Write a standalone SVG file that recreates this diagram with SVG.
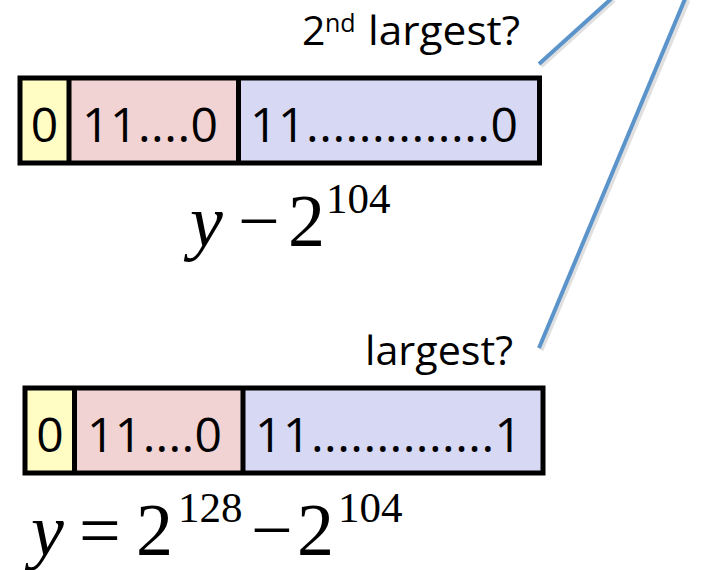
<svg xmlns="http://www.w3.org/2000/svg" width="725" height="570" viewBox="0 0 725 570">
<style>
.bx{stroke:#000;stroke-width:5}
.y{fill:#FFFCC4}.p{fill:#F2D3D3}.b{fill:#D6D8F4}
.t{font-family:"Open Sans","Liberation Sans",sans-serif;fill:#000}
.d{font-size:48px}
.l{font-size:41px}
.m{font-family:"Liberation Serif","Times New Roman",serif;fill:#000}
.big{font-size:74px}
.sup{font-size:43px}
.it{font-style:italic}
.c{stroke:#5B93CB;stroke-width:4;fill:none}
.s{stroke:#000;stroke-opacity:0.12;stroke-width:5;fill:none}
</style>
<g id="connectors">
<line class="s" x1="541" y1="66" x2="614" y2="0"/>
<line class="s" x1="541" y1="350" x2="688" y2="0"/>
<line class="c" x1="539" y1="64" x2="611" y2="-1"/>
<line class="c" x1="539" y1="348" x2="685" y2="-1"/>
</g>
<g id="label-2nd">
<text class="t l" x="302" y="45">2</text>
<text class="t" style="font-size:25px" x="325" y="32">nd</text>
<text class="t l" x="368" y="45" textLength="152" lengthAdjust="spacingAndGlyphs">largest?</text>
</g>
<g id="box-top">
<rect class="y" x="20" y="78" width="49" height="85"/>
<rect class="p" x="69" y="78" width="169.5" height="85"/>
<rect class="b" x="238.5" y="78" width="301" height="85"/>
<rect class="bx" x="20" y="78" width="519.5" height="85" fill="none"/>
<line class="bx" x1="69" y1="78" x2="69" y2="163"/>
<line class="bx" x1="238.5" y1="78" x2="238.5" y2="163"/>
<text class="t d" x="44.5" y="142" text-anchor="middle">0</text>
<text class="t d" x="82" y="142" textLength="136" lengthAdjust="spacing">11....0</text>
<text class="t d" x="250" y="142" textLength="268" lengthAdjust="spacing">11..............0</text>
</g>
<g id="formula-top">
<text class="m big it" x="190" y="246">y</text>
<text class="m big" x="238" y="246">−</text>
<text class="m big" x="288" y="246">2</text>
<text class="m sup" x="326" y="213">104</text>
</g>
<g id="label-largest">
<text class="t l" x="365" y="365" textLength="148" lengthAdjust="spacingAndGlyphs">largest?</text>
</g>
<g id="box-bottom">
<rect class="y" x="25" y="388" width="49.5" height="85"/>
<rect class="p" x="74.5" y="388" width="168.5" height="85"/>
<rect class="b" x="243" y="388" width="300" height="85"/>
<rect class="bx" x="25" y="388" width="518" height="85" fill="none"/>
<line class="bx" x1="74.5" y1="388" x2="74.5" y2="473"/>
<line class="bx" x1="243" y1="388" x2="243" y2="473"/>
<text class="t d" x="50" y="452" text-anchor="middle">0</text>
<text class="t d" x="87" y="452" textLength="135" lengthAdjust="spacing">11....0</text>
<text class="t d" x="255" y="452" textLength="267" lengthAdjust="spacing">11..............1</text>
</g>
<g id="formula-bottom">
<text class="m big it" x="31" y="555">y</text>
<text class="m big" x="79" y="555">=</text>
<text class="m big" x="136" y="555">2</text>
<text class="m sup" x="178" y="522">128</text>
<text class="m big" x="251" y="555">−</text>
<text class="m big" x="297" y="555">2</text>
<text class="m sup" x="338" y="522">104</text>
</g>
</svg>
